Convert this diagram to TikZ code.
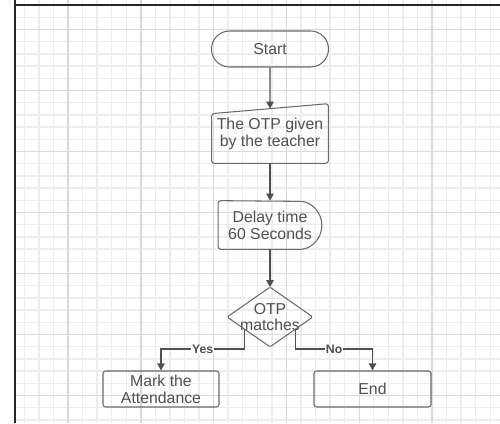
\documentclass[tikz,border=0pt]{standalone}
\usepackage{fontspec}
\setmainfont{Liberation Sans}
\usetikzlibrary{calc,arrows.meta}

\definecolor{gridminor}{HTML}{EDEDED}
\definecolor{gridmajor}{HTML}{DADADA}
\definecolor{inkgray}{HTML}{505050}
\definecolor{edgegray}{HTML}{6A6A6A}

\begin{document}
\begin{tikzpicture}[>={Triangle[length=4pt,width=4.2pt]},
    plain/.style={inner sep=0pt, align=center, text=inkgray, font=\fontsize{9}{9.6}\selectfont},
    box/.style={plain, draw=edgegray, line width=0.6pt, rounded corners=1.5pt, minimum width=2.32cm, minimum height=0.72cm},
    outline/.style={draw=edgegray, line width=0.6pt, rounded corners=1.5pt},
    flow/.style={->, draw=inkgray, line width=0.7pt},
    tag/.style={fill=white, inner sep=0.6pt, text=inkgray, font=\fontsize{7}{7}\selectfont\bfseries}]

    \useasboundingbox (0,0) rectangle (10,8.46);

    % grid paper
    \foreach \n in {-4,...,29}
        \draw[gridminor, line width=0.8pt] ({1.36+\n*0.2912},0) -- ({1.36+\n*0.2912},8.46);
    \foreach \m in {-27,...,7}
        \draw[gridminor, line width=0.8pt] (0.3,{6.65+\m*0.244}) -- (10,{6.65+\m*0.244});
    \foreach \n in {0,5,...,25}
        \draw[gridmajor, line width=0.8pt] ({1.36+\n*0.2912},0) -- ({1.36+\n*0.2912},8.46);
    \foreach \m in {-25,-20,...,5}
        \draw[gridmajor, line width=0.8pt] (0.3,{6.65+\m*0.244}) -- (10,{6.65+\m*0.244});
    \fill[white] (0,0) rectangle (0.3,8.36);

    % frame
    \draw[black!85, line width=1.1pt] (0.3,0) -- (0.3,8.46);
    \draw[black!85, line width=1.6pt] (0.3,8.36) -- (10,8.36);

    % shapes
    \node[box, rounded corners=0.36cm, minimum width=2.34cm] (start) at (5.4,7.48) {Start};

    \node[plain, minimum width=2.32cm, minimum height=1.18cm] (otp) at (5.4,5.79) {The OTP given\\by the teacher};
    \coordinate (otpnw) at ($(otp.north west)+(0,-0.2)$);
    \coordinate (otptop) at ($(otpnw)!0.5!(otp.north east)$);
    \draw[outline] (otp.south west) -- (otp.south east) -- (otp.north east) -- (otpnw) -- cycle;

    \node[plain, minimum width=2.06cm, minimum height=0.96cm] (delay) at (5.4,3.96) {Delay time\\60 Seconds};
    \draw[outline] (delay.south west) -- ($(delay.south east)+(-0.48,0)$)
        arc[start angle=-90, end angle=90, radius=0.48] -- (delay.north west) -- cycle;

    \node[plain, minimum width=1.7cm, minimum height=1.18cm] (match) at (5.4,2.12) {OTP\\matches};
    \draw[outline, rounded corners=0.8pt] (match.north) -- (match.east) -- (match.south) -- (match.west) -- cycle;
    \coordinate (yesout) at ($(match.west)!0.4!(match.south)$);
    \coordinate (noout) at ($(match.east)!0.4!(match.south)$);

    \node[box] (mark) at (3.22,0.68) {Mark the\\Attendance};
    \node[box, minimum width=2.34cm] (end) at (7.45,0.68) {End};

    % connectors
    \draw[flow] (start.south) -- (otptop);
    \draw[flow] (otp.south) -- (delay.north);
    \draw[flow] (delay.south) -- (match.north);
    \draw[flow] (yesout) -- ++(0,-0.4) -| node[tag, pos=0.25] {Yes} (mark.north);
    \draw[flow] (noout) -- ++(0,-0.4) -| node[tag, pos=0.25] {No} (end.north);

\end{tikzpicture}
\end{document}
